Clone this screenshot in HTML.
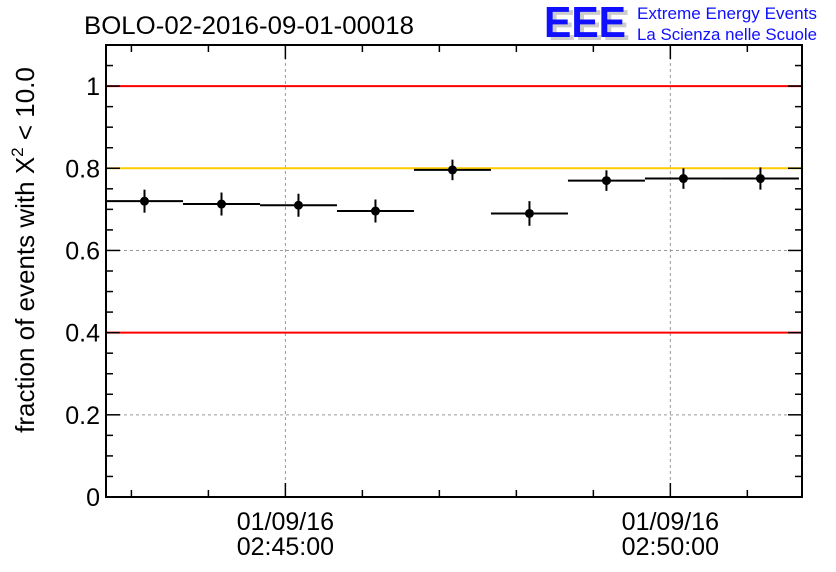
<!DOCTYPE html>
<html><head><meta charset="utf-8"><style>
body{margin:0;background:#fff;}
svg{display:block;font-family:"Liberation Sans",sans-serif;}
</style></head><body>
<svg id="chart" width="836" height="572" viewBox="0 0 836 572">
<text x="84" y="34" font-size="25" textLength="330" lengthAdjust="spacingAndGlyphs">BOLO-02-2016-09-01-00018</text>
<g>
<text x="548" y="40" font-size="44" font-weight="bold" fill="#ccc" textLength="82" lengthAdjust="spacingAndGlyphs">EEE</text>
<text x="544" y="37" font-size="44" font-weight="bold" fill="#1010ff" textLength="82" lengthAdjust="spacingAndGlyphs">EEE</text>
<text x="637" y="19" font-size="16.5" fill="#1010ff" textLength="180" lengthAdjust="spacingAndGlyphs">Extreme Energy Events</text>
<text x="637" y="40" font-size="16.5" fill="#1010ff" textLength="180" lengthAdjust="spacingAndGlyphs">La Scienza nelle Scuole</text>
</g>
<g id="grid"></g>
<g id="refs"></g>
<g id="marks"></g>
<rect x="106" y="45" width="696" height="452" fill="none" stroke="#000" stroke-width="2"/>
<g id="axes"></g>
<text transform="translate(34,250) rotate(-90)" text-anchor="middle" font-size="26">fraction of events with Χ<tspan dy="-11" font-size="17">2</tspan><tspan dy="11"> &lt; 10.0</tspan></text>
</svg>
<script>
const values=[0.720,0.713,0.710,0.696,0.796,0.690,0.770,0.775,0.775];
const errors=[0.028,0.028,0.028,0.028,0.025,0.030,0.025,0.025,0.027];
const binStartMin=[0,1,2,3,4,5,6,7,8];
const refLines=[1.0,0.8,0.4];
const refColors=['#ff0000','#ffcc00','#ff0000'];
const yTicks=[0,0.2,0.4,0.6,0.8,1];
const yTickLabels=['0','0.2','0.4','0.6','0.8','1'];
const xMajorMin=[2.33,7.33];
const xMajorLabels=[['01/09/16','02:45:00'],['01/09/16','02:50:00']];
const NS='http://www.w3.org/2000/svg';
const L=106,R=802,T=45,B=497;
const xMinMax=9.04;
const x=m=>L+m/xMinMax*(R-L);
const y=v=>B-v/1.1*(B-T);
function mk(p,tag,a){const e=document.createElementNS(NS,tag);for(const k in a)e.setAttribute(k,a[k]);p.appendChild(e);return e;}
const grid=document.getElementById('grid'),refs=document.getElementById('refs'),marks=document.getElementById('marks'),axes=document.getElementById('axes');
yTicks.slice(1).forEach(v=>{const e=mk(grid,'line',{x1:L,x2:R,y1:y(v),y2:y(v),stroke:'#999','stroke-dasharray':'3,3'});

});
xMajorMin.forEach(m=>{const e=mk(grid,'line',{x1:x(m),x2:x(m),y1:T,y2:B,stroke:'#999','stroke-dasharray':'3,3'});

});
refLines.forEach((v,i)=>{const e=mk(refs,'line',{x1:L,x2:R,y1:y(v),y2:y(v),stroke:refColors[i],'stroke-width':2});

});
values.forEach((v,i)=>{const g=mk(marks,'g',{});


const x0=x(binStartMin[i]),x1=x(binStartMin[i]+1),xc=(x0+x1)/2;
mk(g,'line',{x1:x0,x2:x1,y1:y(v),y2:y(v),stroke:'#000','stroke-width':2});
mk(g,'line',{x1:xc,x2:xc,y1:y(v+errors[i]),y2:y(v-errors[i]),stroke:'#000','stroke-width':2});
mk(g,'circle',{cx:xc,cy:y(v),r:4.5,fill:'#000'});});
for(let k=0;k<=22;k++){const v=k*0.05;const maj=k%4===0;const len=maj?14:7;
mk(axes,'line',{x1:L,x2:L+len,y1:y(v),y2:y(v),stroke:'#000','stroke-width':1.5});
mk(axes,'line',{x1:R,x2:R-len,y1:y(v),y2:y(v),stroke:'#000','stroke-width':1.5});}
yTicks.forEach((v,i)=>{const t=mk(axes,'text',{x:L-6,y:y(v)+9,'text-anchor':'end','font-size':25});t.textContent=yTickLabels[i];

});
for(let m=xMajorMin[0]-2;m<xMinMax;m+=1){if(m<0)continue;const isMaj=xMajorMin.some(a=>Math.abs(a-m)<1e-3);const len=isMaj?14:7;
mk(axes,'line',{x1:x(m),x2:x(m),y1:B,y2:B-len,stroke:'#000','stroke-width':1.5});
mk(axes,'line',{x1:x(m),x2:x(m),y1:T,y2:T+len,stroke:'#000','stroke-width':1.5});}
xMajorMin.forEach((m,i)=>{xMajorLabels[i].forEach((s,j)=>{const t=mk(axes,'text',{x:x(m),y:530+j*25,'text-anchor':'middle','font-size':25});t.textContent=s;

});});
</script>
</body></html>
